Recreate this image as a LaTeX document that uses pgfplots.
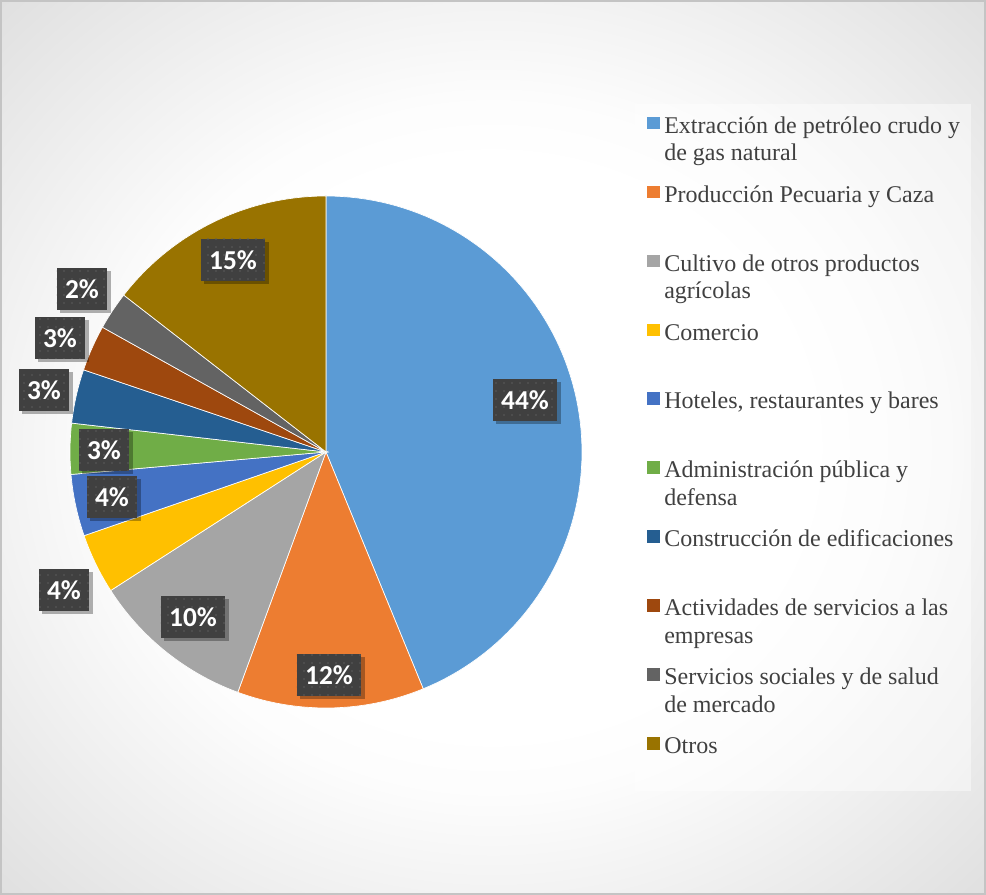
\documentclass[border=0pt]{standalone}
\usepackage{fontspec}
\setmainfont{Liberation Serif}
\newfontfamily\lblfont{Carlito}
\usepackage{pgfplots}
\pgfplotsset{compat=1.18}
\usetikzlibrary{shadows,patterns.meta}
\newlength\px
\setlength\px{0.75pt}
\definecolor{cA}{HTML}{5B9BD5}
\definecolor{cB}{HTML}{ED7D31}
\definecolor{cC}{HTML}{A5A5A5}
\definecolor{cD}{HTML}{FFC000}
\definecolor{cE}{HTML}{4472C4}
\definecolor{cF}{HTML}{70AD47}
\definecolor{cG}{HTML}{255E91}
\definecolor{cH}{HTML}{9E480E}
\definecolor{cI}{HTML}{636363}
\definecolor{cJ}{HTML}{997300}
\definecolor{lbl}{HTML}{404040}
\definecolor{dotc}{HTML}{5C5C5C}
\definecolor{txt}{HTML}{404040}
\definecolor{frame}{HTML}{C4C4C4}
\pgfdeclareradialshading{bgshade}{\pgfpoint{0bp}{0bp}}{%
color(0bp)=(white); color(16bp)=(white); color(19.5bp)=(black!1); color(26.5bp)=(black!6);
color(35bp)=(black!12); color(44bp)=(black!18.5); color(50bp)=(black!22.5)}
% values (percent), clockwise from 12 o'clock
\def\vA{43.8}\def\vB{11.8}\def\vC{10.3}\def\vD{3.8}\def\vE{3.9}%
\def\vF{3.2}\def\vG{3.4}\def\vH{2.9}\def\vI{2.4}\def\vJ{14.5}%
\begin{document}%
\begin{tikzpicture}[x=0.75pt,y=0.75pt]
\useasboundingbox (0,0) rectangle (986,895);
\pgfmathsetmacro\aO{90}
\pgfmathsetmacro\aA{\aO-3.6*\vA}
\pgfmathsetmacro\aB{\aA-3.6*\vB}
\pgfmathsetmacro\aC{\aB-3.6*\vC}
\pgfmathsetmacro\aD{\aC-3.6*\vD}
\pgfmathsetmacro\aE{\aD-3.6*\vE}
\pgfmathsetmacro\aF{\aE-3.6*\vF}
\pgfmathsetmacro\aG{\aF-3.6*\vG}
\pgfmathsetmacro\aH{\aG-3.6*\vH}
\pgfmathsetmacro\aI{\aH-3.6*\vI}
\pgfmathsetmacro\aJ{\aI-3.6*\vJ}
\shade[shading=bgshade] (0,0) rectangle (986,895);
\draw[frame, line width=1.5pt] (1,1) rectangle (985,894);
\fill[white, opacity=0.45] (635,104) rectangle (971,791);
\begin{axis}[at={(0,0)}, anchor=south west, x=0.75pt, y=0.75pt,
  xmin=-326, xmax=660, ymin=-443, ymax=452, enlargelimits=false, hide axis,
  legend image code/.code={\fill[#1,draw=none] (0,9\px) rectangle (12.6\px,21.6\px);},
  legend style={at={(axis description cs:0.65619,0.8730)}, anchor=north west,
    draw=none, fill=none, inner sep=0pt, row sep=20\px, column sep=4.4\px,
    font=\fontsize{18}{20.7}\selectfont, text=txt,
    nodes={inner sep=0pt}, cells={anchor=west, align=left}},
  slice/.style={fill=#1, draw=white, line width=0.5pt, samples=90},
]
\addplot[slice=cA, domain=\aA:\aO] ({256*cos(x)},{256*sin(x)}) -- (0,0) -- cycle;
\addlegendentry{\strut Extracción de petróleo crudo y\\\strut de gas natural}
\addplot[slice=cB, domain=\aB:\aA] ({256*cos(x)},{256*sin(x)}) -- (0,0) -- cycle;
\addlegendentry{\strut Producción Pecuaria y Caza\\\strut}
\addplot[slice=cC, domain=\aC:\aB] ({256*cos(x)},{256*sin(x)}) -- (0,0) -- cycle;
\addlegendentry{\strut Cultivo de otros productos\\\strut agrícolas}
\addplot[slice=cD, domain=\aD:\aC] ({256*cos(x)},{256*sin(x)}) -- (0,0) -- cycle;
\addlegendentry{\strut Comercio\\\strut}
\addplot[slice=cE, domain=\aE:\aD] ({256*cos(x)},{256*sin(x)}) -- (0,0) -- cycle;
\addlegendentry{\strut Hoteles, restaurantes y bares\\\strut}
\addplot[slice=cF, domain=\aF:\aE] ({256*cos(x)},{256*sin(x)}) -- (0,0) -- cycle;
\addlegendentry{\strut Administración pública y\\\strut defensa}
\addplot[slice=cG, domain=\aG:\aF] ({256*cos(x)},{256*sin(x)}) -- (0,0) -- cycle;
\addlegendentry{\strut Construcción de edificaciones\\\strut}
\addplot[slice=cH, domain=\aH:\aG] ({256*cos(x)},{256*sin(x)}) -- (0,0) -- cycle;
\addlegendentry{\strut Actividades de servicios a las\\\strut empresas}
\addplot[slice=cI, domain=\aI:\aH] ({256*cos(x)},{256*sin(x)}) -- (0,0) -- cycle;
\addlegendentry{\strut Servicios sociales y de salud\\\strut de mercado}
\addplot[slice=cJ, domain=\aJ:\aI] ({256*cos(x)},{256*sin(x)}) -- (0,0) -- cycle;
\addlegendentry{\strut Otros\\\strut}
% data labels
\addplot[forget plot, draw=none, mark=none,
  point meta=explicit symbolic,
  nodes near coords={\pgfplotspointmeta\%},
  nodes near coords align=center,
  every node near coord/.style={anchor=center, fill=lbl, text=white,
    font=\lblfont\bfseries\fontsize{20.5}{22}\selectfont,
    inner xsep=8.5\px, inner ysep=0pt, minimum height=42\px,
    drop shadow={shadow xshift=3.5\px, shadow yshift=-3.5\px, opacity=0.3, fill=black},
    postaction={pattern={Dots[distance=6pt, radius=0.6pt]}, pattern color=dotc}},
] table[meta=p] {
x y p
199 52 44
3 -223 12
-133 -165 10
-262 -138 4
-214 -45 4
-222 2 3
-282 62 3
-266 114 3
-244 163 2
-93 192 15
};
\end{axis}
\end{tikzpicture}%
\end{document}
